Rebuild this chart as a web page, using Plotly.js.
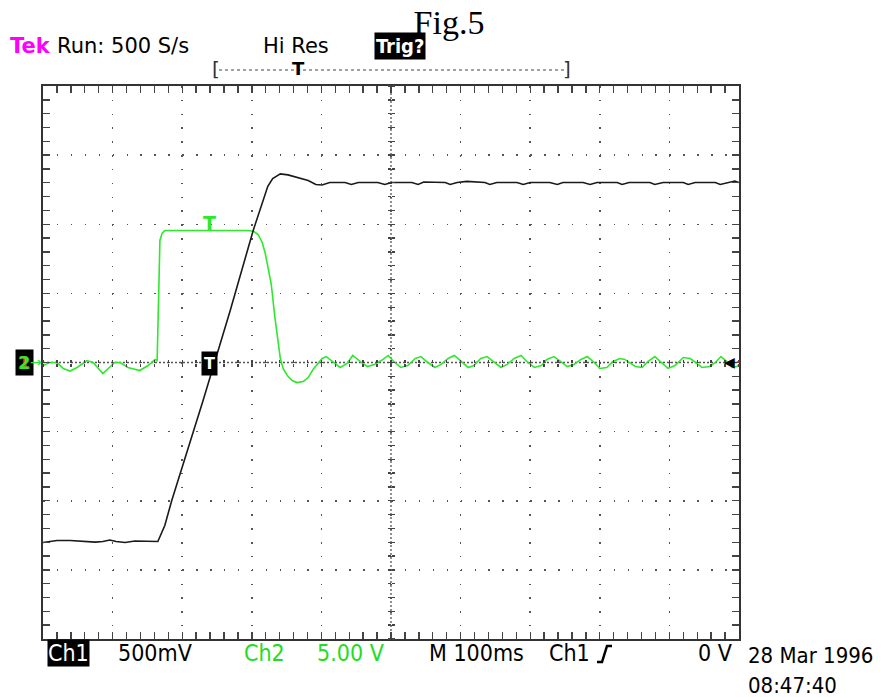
<!DOCTYPE html>
<html><head><meta charset="utf-8">
<script src="https://cdn.plot.ly/plotly-3.0.1.min.js"></script>
<style>body{margin:0;background:#fff}#chart{width:891px;height:697px}</style>
</head><body><div id="chart"></div>
<script>
// ---- Data (time in ms, channel voltages in V) ----
const ch1Time = [0,10,20,39,56,75,86,96,105,118,132,147,161,165,175,185,230,269,302,316,323,330,341,352,366,381,392,401,412,434,443,453,481,491,501,530,539,547,578,585,595,609,635,642,652,681,690,700,728,739,747,776,786,796,825,832,842,872,879,891,920,927,937,966,973,984,994,1000];
const ch1Volts = [-1.302,-1.295,-1.288,-1.288,-1.295,-1.299,-1.295,-1.284,-1.295,-1.302,-1.291,-1.295,-1.299,-1.295,-1.179,-0.998,-0.275,0.376,0.955,1.179,1.274,1.331,1.364,1.357,1.339,1.317,1.288,1.284,1.302,1.302,1.288,1.302,1.302,1.288,1.302,1.302,1.288,1.306,1.302,1.288,1.302,1.310,1.302,1.288,1.302,1.302,1.288,1.302,1.302,1.288,1.302,1.302,1.288,1.302,1.302,1.288,1.302,1.302,1.288,1.302,1.302,1.288,1.302,1.302,1.288,1.302,1.313,1.302];
const ch2Time = [0,10,20,29,39,49,63,72,86,96,103,111,122,139,151,161,164,165,167,168,171,175,237,295,303,309,315,319,323,328,333,338,341,345,351,358,365,374,381,388,395,401,407,417,427,437,445,456,466,476,486,496,504,514,524,535,543,553,563,572,582,591,601,611,619,629,638,648,658,667,677,687,695,706,716,724,734,744,753,763,773,782,792,800,810,819,829,836,843,851,861,869,879,889,898,908,920,930,940,947,958,966,974,981,990,997,1000];
const ch2Volts = [-0.22,0,0,-0.43,-0.62,-0.36,0.14,0,-0.80,-0.36,0,0,-0.36,-0.58,-0.22,0.22,0.14,2.32,7.38,8.83,9.33,9.55,9.55,9.55,9.48,9.26,8.68,7.96,6.95,5.64,3.33,1.59,0.29,-0.43,-0.94,-1.30,-1.45,-1.37,-1.09,-0.51,-0.07,0.29,0.43,0,-0.36,-0.07,0.51,0.07,-0.29,-0.14,0.14,0.51,0.07,-0.36,-0.22,0.29,0.43,0,-0.36,-0.14,0.29,0.51,0.07,-0.36,-0.22,0.29,0.43,0,-0.36,-0.14,0.29,0.51,0.07,-0.36,-0.22,0.22,0.43,0.07,-0.29,-0.14,0.22,0.43,0,-0.43,-0.36,0.07,0.29,0.22,0,-0.29,-0.36,0.07,0.43,0,-0.43,-0.22,0.36,0.29,-0.07,-0.36,-0.29,0,0.43,0.14,-0.36,-0.29,-0.14];

const timePerDiv = 100;     // ms / div
const ch1PerDiv = 0.5;      // V / div
const ch2PerDiv = 5;        // V / div
const hDivs = 10, vDivs = 8;

// ---- layout helpers (pixel -> paper) ----
const L = 43, R = 739, T = 86, B = 639;
const px = x => (x - L) / (R - L);
const py = y => (B - y) / (B - T);

const tekFont = 'DejaVu Sans, sans-serif';
const condFont = 'DejaVu Sans Condensed, Liberation Sans Narrow, sans-serif';
const GREEN = '#2ee82e';
const TXTGREEN = '#22dd22';

const xMax = timePerDiv * hDivs;
const y1Max = ch1PerDiv * vDivs / 2;
const y2Max = ch2PerDiv * vDivs / 2;

const traces = [
  {x: ch2Time, y: ch2Volts, xaxis: 'x', yaxis: 'y', mode: 'lines',
   line: {color: GREEN, width: 1.6}, hoverinfo: 'skip', showlegend: false},
  {x: ch1Time, y: ch1Volts, xaxis: 'x', yaxis: 'y2', mode: 'lines',
   line: {color: '#1a1a1a', width: 1.6}, hoverinfo: 'skip', showlegend: false},
  {x: [0], y: [0], xaxis: 'x2', yaxis: 'y', mode: 'markers', marker: {opacity: 0}, hoverinfo: 'skip', showlegend: false},
  {x: [0], y: [0], xaxis: 'x3', yaxis: 'y', mode: 'markers', marker: {opacity: 0}, hoverinfo: 'skip', showlegend: false},
  {x: [0], y: [0], xaxis: 'x', yaxis: 'y3', mode: 'markers', marker: {opacity: 0}, hoverinfo: 'skip', showlegend: false},
  {x: [0], y: [0], xaxis: 'x', yaxis: 'y4', mode: 'markers', marker: {opacity: 0}, hoverinfo: 'skip', showlegend: false}
];

const plotW = R - L, plotH = B - T;
const xMinorPx = plotW / hDivs / 5, yMinorPx = plotH / vDivs / 5;

const centerTickAxis = (extra) => Object.assign({
  anchor: 'free', position: 0.5, showticklabels: false, showgrid: false,
  zeroline: false, showline: false, ticks: 'outside', ticklen: 3,
  tickwidth: 1.4, tickcolor: '#444'
}, extra);

const ann = (x, y, text, o) => Object.assign({
  xref: 'paper', yref: 'paper', x: px(x), y: py(y), text: text,
  showarrow: false, xanchor: 'left', yanchor: 'middle',
  font: {family: condFont, size: 23, color: '#000'}
}, o || {});

const layout = {
  width: 891, height: 697,
  margin: {l: L, r: 891 - R, t: T, b: 697 - B, pad: 0},
  paper_bgcolor: '#fff', plot_bgcolor: '#fff',
  showlegend: false,
  title: {text: 'Fig.5', font: {family: 'Liberation Serif, Times New Roman, serif', size: 34, color: '#000'},
          x: 449 / 891, xanchor: 'center', xref: 'container', y: 1 - 22 / 697, yanchor: 'middle', yref: 'container'},
  xaxis: {
    range: [0, xMax], dtick: timePerDiv, tick0: 0, domain: [0, 1],
    showgrid: true, gridcolor: '#555', gridwidth: 1.5,
    griddash: '1.5px,' + (yMinorPx - 1.5).toFixed(2) + 'px',
    ticks: 'inside', ticklen: 7, tickwidth: 1.4, tickcolor: '#444',
    minor: {dtick: timePerDiv / 5, ticks: 'inside', ticklen: 3, tickwidth: 1.4, tickcolor: '#444', showgrid: false},
    showline: true, linecolor: '#333', linewidth: 2, mirror: 'allticks',
    showticklabels: false, zeroline: false
  },
  yaxis: {
    range: [-y2Max, y2Max], dtick: ch2PerDiv, tick0: 0, domain: [0, 1],
    showgrid: true, gridcolor: '#555', gridwidth: 1.5,
    griddash: '1.5px,' + (xMinorPx - 1.5).toFixed(2) + 'px',
    ticks: 'inside', ticklen: 7, tickwidth: 1.4, tickcolor: '#444',
    minor: {dtick: ch2PerDiv / 5, ticks: 'inside', ticklen: 3, tickwidth: 1.4, tickcolor: '#444', showgrid: false},
    showline: true, linecolor: '#333', linewidth: 2, mirror: 'allticks',
    showticklabels: false, zeroline: false
  },
  yaxis2: {overlaying: 'y', range: [-y1Max, y1Max], showgrid: false, showline: false,
           showticklabels: false, ticks: '', zeroline: false},
  xaxis2: centerTickAxis({overlaying: 'x', side: 'bottom', range: [0, xMax], dtick: timePerDiv / 5, tick0: 0}),
  xaxis3: centerTickAxis({overlaying: 'x', side: 'top', range: [0, xMax], dtick: timePerDiv / 5, tick0: 0}),
  yaxis3: centerTickAxis({overlaying: 'y', side: 'left', range: [-y2Max, y2Max], dtick: ch2PerDiv / 5, tick0: 0}),
  yaxis4: centerTickAxis({overlaying: 'y', side: 'right', range: [-y2Max, y2Max], dtick: ch2PerDiv / 5, tick0: 0}),
  shapes: [
    {type: 'line', xref: 'x', yref: 'y', x0: 0, x1: xMax, y0: 0, y1: 0, layer: 'below',
     line: {color: '#555', width: 1.3, dash: '2px,2px'}},
    {type: 'line', xref: 'x', yref: 'y', x0: xMax / 2, x1: xMax / 2, y0: -y2Max, y1: y2Max, layer: 'below',
     line: {color: '#555', width: 1.3, dash: '2px,2px'}},
    {type: 'line', xref: 'paper', yref: 'paper', x0: px(219), x1: px(565), y0: py(70), y1: py(70),
     line: {color: '#444', width: 1.2, dash: 'dot'}},
    {type: 'path', xref: 'paper', yref: 'paper',
     path: `M ${px(597)},${py(662)} L ${px(602)},${py(662)} L ${px(607)},${py(646)} L ${px(612)},${py(646)}`,
     line: {color: '#000', width: 2.5}},
    {type: 'line', xref: 'paper', yref: 'paper', x0: px(731), x1: px(739), y0: py(362), y1: py(362),
     line: {color: '#e02020', width: 1.5, dash: 'dot'}}
  ],
  annotations: [
    ann(8, 46, '<b>Tek</b>', {font: {family: tekFont, size: 21, color: '#ff00ff'}}),
    ann(55, 46, 'Run: 500 S/s', {font: {family: tekFont, size: 21, color: '#000'}}),
    ann(261, 46, 'Hi Res', {font: {family: tekFont, size: 21, color: '#000'}}),
    ann(400, 46, '<b>Trig?</b>', {xanchor: 'center', bgcolor: '#000', borderpad: 1,
        font: {family: condFont, size: 20, color: '#fff'}}),
    ann(216, 69, '[', {xanchor: 'center', font: {family: tekFont, size: 20, color: '#333'}}),
    ann(567, 69, ']', {xanchor: 'center', font: {family: tekFont, size: 20, color: '#333'}}),
    ann(298, 69, '<b>T</b>', {xanchor: 'center', font: {family: tekFont, size: 18, color: '#000'}}),
    // bottom readout
    ann(68, 653, 'Ch1', {xanchor: 'center', bgcolor: '#000', borderpad: 0, font: {family: condFont, size: 23, color: '#fff'}}),
    ann(116, 653, '500mV'),
    ann(242, 653, 'Ch2', {font: {family: condFont, size: 23, color: TXTGREEN}}),
    ann(315, 653, '5.00 V', {font: {family: condFont, size: 23, color: TXTGREEN}}),
    ann(427, 653, 'M 100ms'),
    ann(547, 653, 'Ch1'),
    ann(734, 653, '0 V', {xanchor: 'right'}),
    ann(746, 655, '28 Mar 1996', {font: {family: condFont, size: 22, color: '#000'}}),
    ann(746, 685, '08:47:40', {font: {family: condFont, size: 22, color: '#000'}}),
    // channel ground marker
    ann(24, 362, '<b>1</b>', {xanchor: 'center', bgcolor: '#000', borderpad: 2,
        font: {family: tekFont, size: 18, color: '#ff3030'}}),
    ann(24, 362, '<b>2</b>', {xanchor: 'center', font: {family: tekFont, size: 18, color: GREEN}}),
    ann(36, 362, '→', {xanchor: 'center', font: {family: tekFont, size: 14, color: GREEN}}),
    // trigger markers
    ann(209, 363, '<b>T</b>', {xanchor: 'center', bgcolor: '#000', borderpad: 2,
        font: {family: tekFont, size: 16, color: '#fff'}}),
    ann(209, 223, '<b>T</b>', {xanchor: 'center', font: {family: tekFont, size: 19, color: GREEN}}),
    ann(729, 362, '◀', {xanchor: 'center', font: {family: tekFont, size: 14, color: '#000'}})
  ]
};

Plotly.newPlot('chart', traces, layout, {staticPlot: true, displayModeBar: false});
</script>
</body></html>
